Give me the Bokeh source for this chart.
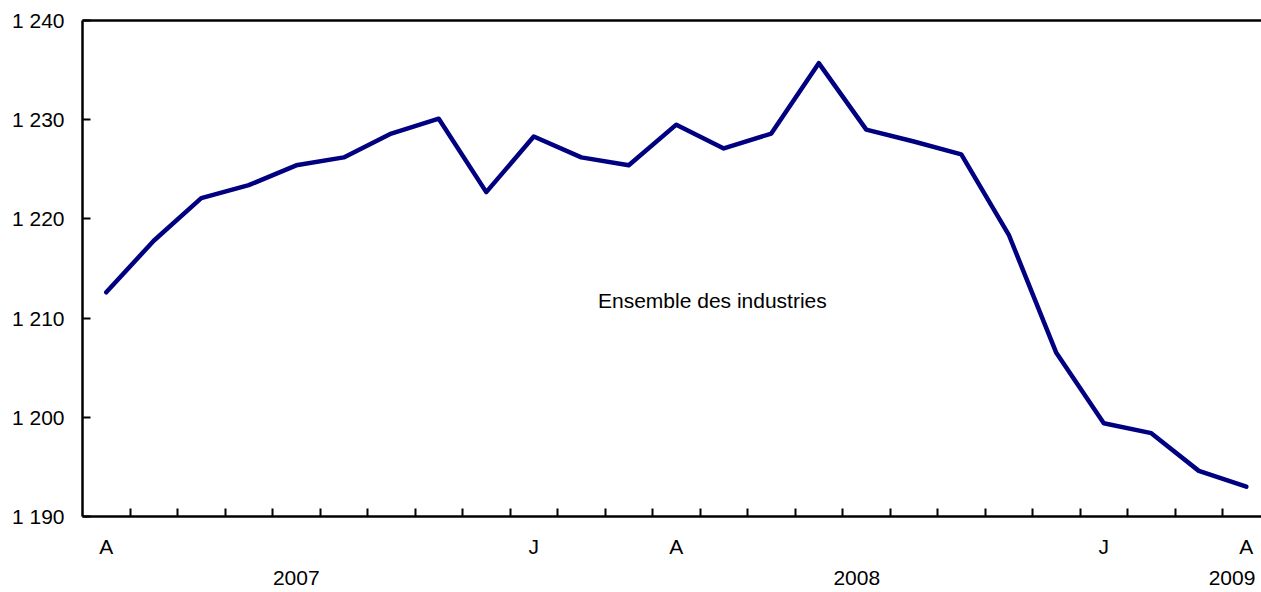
from bokeh.plotting import figure
from bokeh.models import LinearAxis, FixedTicker, Range1d
from bokeh.embed import file_html
from bokeh.resources import INLINE
from bokeh.core.properties import value

# Months: April 2007 .. April 2009 (index 0..24)
months = list(range(25))
employment = [1212.6, 1217.8, 1222.1, 1223.4, 1225.4, 1226.2, 1228.6, 1230.1,
              1222.7, 1228.3, 1226.2, 1225.4, 1229.5, 1227.1, 1228.6, 1235.7,
              1229.0, 1227.8, 1226.5, 1218.4, 1206.5, 1199.4, 1198.4, 1194.6,
              1193.0]
month_tick_pos = [0, 9, 12, 21, 24]
month_tick_labels = ["A", "J", "A", "J", "A"]
year_pos = [4.0, 15.8, 23.7]
year_labels = ["2007", "2008", "2009"]
y_ticks = [1190, 1200, 1210, 1220, 1230, 1240]
y_tick_labels = ["1 190", "1 200", "1 210", "1 220", "1 230", "1 240"]
series_label = "Ensemble des industries"
label_x = 12.76
label_y = 1211.8

FONT = "Liberation Sans"
FS = "21px"

p = figure(width=1261, height=592, output_backend="svg", toolbar_location=None,
           x_range=Range1d(-0.5, 24.32), y_range=Range1d(1190, 1240),
           x_axis_type=None, y_axis_type=None,
           min_border_left=82, min_border_right=0, min_border_top=20,
           min_border_bottom=76, outline_line_color=None)
p.xgrid.visible = False
p.ygrid.visible = False
p.background_fill_color = "white"
p.border_fill_color = "white"

# left axis
yax = LinearAxis(ticker=FixedTicker(ticks=y_ticks),
                 major_label_overrides=dict(zip(y_ticks, y_tick_labels)))
yax.axis_line_width = 2.5
yax.axis_line_color = "black"
yax.major_tick_in = 8
yax.major_tick_out = 0
yax.major_tick_line_width = 2
yax.major_tick_line_color = "black"
yax.minor_tick_line_color = None
yax.major_label_standoff = 18
yax.major_label_text_font = FONT
yax.major_label_text_font_size = FS
yax.major_label_text_color = "black"
p.add_layout(yax, "left")

# bottom axis: month boundaries as minor ticks, month letters as labels
boundaries = [m + 0.5 for m in months[:-1]]
xax = LinearAxis(ticker=FixedTicker(ticks=month_tick_pos, minor_ticks=boundaries),
                 major_label_overrides=dict(zip(month_tick_pos, month_tick_labels)))
xax.axis_line_width = 2.5
xax.axis_line_color = "black"
xax.major_tick_line_color = None
xax.major_tick_in = 0
xax.major_tick_out = 0
xax.minor_tick_in = 8
xax.minor_tick_out = 0
xax.minor_tick_line_width = 2
xax.minor_tick_line_color = "black"
xax.major_label_standoff = 18
xax.major_label_text_font = FONT
xax.major_label_text_font_size = FS
xax.major_label_text_color = "black"
p.add_layout(xax, "below")

# year labels axis
yrax = LinearAxis(ticker=FixedTicker(ticks=year_pos),
                  major_label_overrides=dict(zip(year_pos, year_labels)))
yrax.axis_line_color = None
yrax.major_tick_line_color = None
yrax.minor_tick_line_color = None
yrax.major_tick_in = 0
yrax.major_tick_out = 0
yrax.major_label_standoff = 10
yrax.major_label_text_font = FONT
yrax.major_label_text_font_size = FS
yrax.major_label_text_color = "black"
p.add_layout(yrax, "below")

# top frame line
tax = LinearAxis(ticker=FixedTicker(ticks=[]))
tax.axis_line_width = 2.5
tax.axis_line_color = "black"
tax.major_tick_line_color = None
tax.minor_tick_line_color = None
tax.major_label_text_font_size = "0px"
tax.major_label_standoff = 0
p.add_layout(tax, "above")

p.line(months, employment, line_color="#000080", line_width=4.5,
       line_cap="round", line_join="round")

p.text(x=[label_x], y=[label_y], text=[series_label], text_align="center",
       text_baseline="middle", text_font=value(FONT), text_font_size=FS,
       text_color="black")

open("out.html", "w").write(file_html(p, INLINE))
